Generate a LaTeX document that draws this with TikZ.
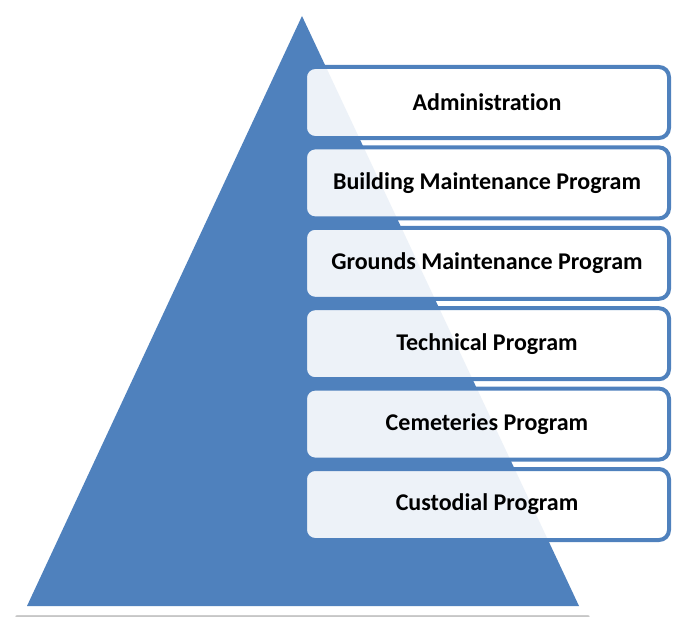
\documentclass[tikz,border=0pt]{standalone}
\usepackage{fontspec}
\setmainfont{Carlito}[Ligatures=NoCommon]
\begin{document}
\definecolor{pyrblue}{HTML}{4F81BD}
\begin{tikzpicture}[x=0.75pt,y=-0.75pt,
  listbox/.style={draw=pyrblue, line width=3pt, fill=white, fill opacity=0.9,
    rounded corners=7.5pt, minimum width=273pt, minimum height=53.25pt,
    text opacity=1, inner sep=0pt,
    font=\fontsize{18pt}{21pt}\selectfont\bfseries, text=black}]
\useasboundingbox (0,0) rectangle (675,617);
% soft shadow under the pyramid
\foreach \d/\o in {4/0.06,3/0.08,2/0.10}
  \fill[black, opacity=\o] (302,4+\d) -- (590,615+\d) -- (15,615+\d) -- cycle;
% white rim and blue pyramid
\fill[white] (302,4) -- (590,615) -- (15,615) -- cycle;
\fill[pyrblue] (302,16) -- (579,606) -- (27,606) -- cycle;
% list of programmes
\node[listbox] (admin) at (487,102.5) {Administration};
\node[listbox] (build) at (487,182.9) {Building Maintenance Program};
\node[listbox] (ground) at (487,263.3) {Grounds Maintenance Program};
\node[listbox] (tech) at (487,343.7) {Technical Program};
\node[listbox] (cem) at (487,424.1) {Cemeteries Program};
\node[listbox] (cust) at (487,504.5) {Custodial Program};
\end{tikzpicture}
\end{document}
